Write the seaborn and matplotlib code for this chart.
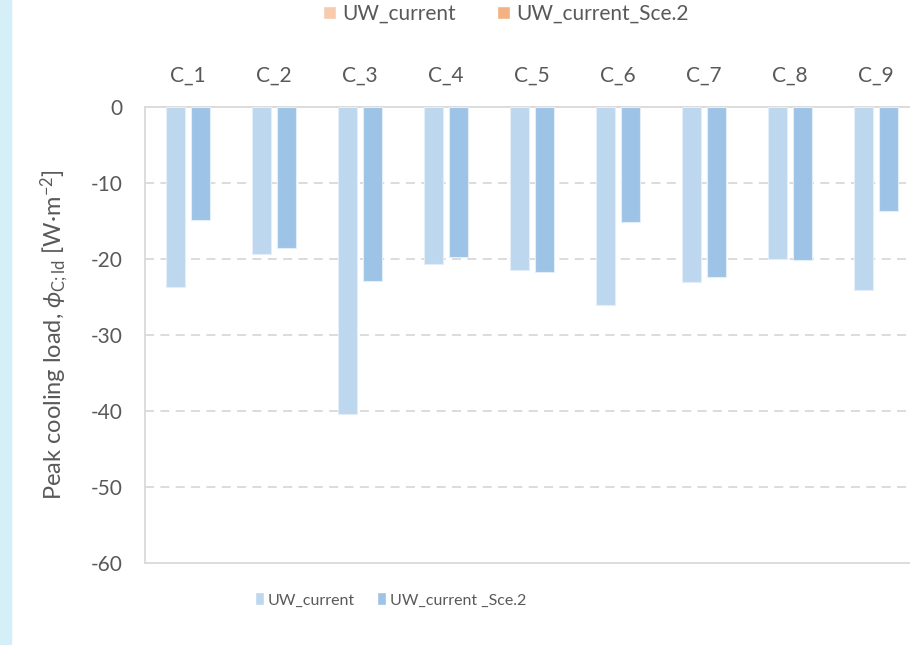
import seaborn as sns
import matplotlib.pyplot as plt
import pandas as pd
from matplotlib.patches import Patch, Rectangle

# data
cases = ["C_1", "C_2", "C_3", "C_4", "C_5", "C_6", "C_7", "C_8", "C_9"]
uw_current = [-23.7, -19.3, -40.4, -20.7, -21.5, -26.1, -23.0, -20.0, -24.1]
uw_sce2 = [-14.9, -18.5, -22.9, -19.7, -21.7, -15.1, -22.4, -20.1, -13.7]
yticks = [0, -10, -20, -30, -40, -50, -60]

sns.set_theme(style="white")
plt.rcParams["font.family"] = ["Lato", "DejaVu Sans"]
plt.rcParams["mathtext.fontset"] = "custom"
plt.rcParams["mathtext.rm"] = "Lato"
plt.rcParams["mathtext.it"] = "Lato:italic"

TXT = "#595959"
GRID = "#D9D9D9"
LIGHT = "#BDD7EE"
DARK = "#9DC3E6"
FS = 15

df = pd.DataFrame({
    "case": cases * 2,
    "load": uw_current + uw_sce2,
    "series": ["UW_current"] * len(cases) + ["UW_current _Sce.2"] * len(cases),
})

fig = plt.figure(figsize=(9.1, 6.45), dpi=100)
fig.patches.append(Rectangle((0, 0), 11 / 910, 1, transform=fig.transFigure,
                             color="#D5EFF9", zorder=0))
ax = fig.add_axes([145 / 910, 1 - 563 / 645, 1 - 145 / 910, (563 - 107) / 645])

sns.barplot(data=df, x="case", y="load", hue="series", ax=ax,
            palette={"UW_current": LIGHT, "UW_current _Sce.2": DARK},
            saturation=1, width=0.58, gap=0.24, edgecolor="#E3EEF8",
            linewidth=0.8, legend=False, zorder=3)

ax.set_ylim(-60, 0)
ax.set_xlim(-0.5, 8.395)
ax.set_yticks(yticks)
ax.set_yticklabels([str(v) for v in yticks])
for v in yticks[1:-1]:
    ax.axhline(v, color=GRID, lw=1.3, ls=(0, (5, 3.5)), zorder=1)

ax.xaxis.tick_top()
ax.tick_params(axis="x", length=0, pad=15, labelsize=FS, labelcolor=TXT)
ax.tick_params(axis="y", length=0, pad=16, labelsize=FS, labelcolor=TXT)
ax.set_xlabel("")
ax.set_ylabel(r"Peak cooling load, $\it{\phi}_{\mathrm{C;ld}}$ [W·m$^{-2}$]",
              fontsize=17, color=TXT)
ax.yaxis.set_label_coords(71 / 910, 1 - 335 / 645, transform=fig.transFigure)

for side in ["left", "top", "bottom"]:
    ax.spines[side].set_visible(True)
    ax.spines[side].set_color(GRID)
    ax.spines[side].set_linewidth(1.3)
ax.spines["right"].set_visible(False)

# top legend (orange, legend only)
top_handles = [Patch(facecolor="#F8CBAD"), Patch(facecolor="#F4B183")]
fig.legend(top_handles, ["UW_current", "UW_current_Sce.2"], loc="center",
           bbox_to_anchor=(0.556, 1 - 14 / 645), ncol=2, frameon=False,
           fontsize=FS, labelcolor=TXT, handlelength=0.6, handleheight=0.6,
           handletextpad=0.3, columnspacing=2.0)

# bottom legend (narrower text in the reference)
bot_handles = [Patch(facecolor=LIGHT), Patch(facecolor=DARK)]
fig.legend(bot_handles, ["UW_current", "UW_current _Sce.2"], loc="center",
           bbox_to_anchor=(0.429, 1 - 600 / 645), ncol=2, frameon=False,
           fontsize=11.5, labelcolor=TXT, handlelength=0.56, handleheight=0.875,
           handletextpad=0.25, columnspacing=1.38)

fig.savefig("out.png", dpi=100)
